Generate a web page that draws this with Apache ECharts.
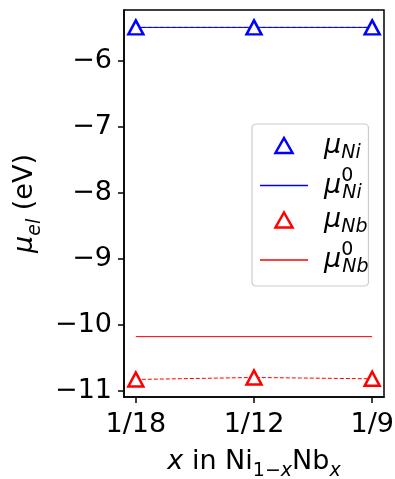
<!DOCTYPE html>
<html>
<head>
<meta charset="utf-8">
<script src="https://cdn.jsdelivr.net/npm/echarts@6/dist/echarts.min.js"></script>
<style>
  html, body { margin: 0; padding: 0; background: #fff; }
  #chart { width: 395px; height: 479px; }
</style>
</head>
<body>
<div id="chart"></div>
<script>
// Compositions on the x axis (placed at 0, 1, 2)
const categories = ['1/18', '1/12', '1/9'];
const xPositions = [0, 1, 2];

// Chemical potentials (eV)
const muNi = [-5.49, -5.49, -5.49];
const muNi0 = -5.49;
const muNb = [-10.83, -10.80, -10.82];
const muNb0 = -10.18;

// Y tick values and their labels
const yTicks = [-11, -10, -9, -8, -7, -6];
const yTickLabels = ['\u221211', '\u221210', '\u22129', '\u22128', '\u22127', '\u22126'];

const FONT = 'DejaVu Sans';
const BLUE = '#0000ff';
const RED = '#ff0000';

const pts = (vals) => vals.map((v, i) => [xPositions[i], v]);
const flat = (v) => [[xPositions[0], v], [xPositions[xPositions.length - 1], v]];

const legendText = {
  muNi: '{lmu|\u03bc}{lsub|Ni}',
  muNi0: '{lmu|\u03bc}{lsup|0}{lsub|Ni}',
  muNb: '{lmu|\u03bc}{lsub|Nb}',
  muNb0: '{lmu|\u03bc}{lsup|0}{lsub|Nb}'
};

const triPath = 'path://M50,0 L100,88 L0,88 Z';
const hLine = 'path://M0,0 L100,0 L100,3 L0,3 Z';

const chart = echarts.init(document.getElementById('chart'), null, { renderer: 'canvas' });

const option = {
  animation: false,
  backgroundColor: '#fff',
  textStyle: { fontFamily: FONT },
  grid: {
    left: 124, top: 10, width: 260, height: 387,
    outerBoundsMode: 'none',
    containLabel: false,
    show: true, borderColor: '#000', borderWidth: 1.5, backgroundColor: 'transparent'
  },
  xAxis: {
    type: 'value',
    min: -0.1, max: 2.1,
    splitLine: { show: false },
    axisLine: { show: true, onZero: false, lineStyle: { color: '#000', width: 1.5 } },
    axisTick: { show: true, length: 6, lineStyle: { color: '#000', width: 1.5 }, customValues: xPositions },
    axisLabel: {
      customValues: xPositions,
      margin: 14,
      color: '#000', fontSize: 27, fontFamily: FONT,
      formatter: (v) => categories[Math.round(v)]
    },
    name: '{it|x}{rm| in Ni}{sb|1\u2212}{sbi|x}{rm|Nb}{sbi|x}',
    nameLocation: 'middle',
    nameGap: 50,
    nameTextStyle: {
      color: '#000', fontFamily: FONT,
      rich: {
        it: { fontSize: 27, fontStyle: 'italic', fontFamily: FONT, color: '#000', lineHeight: 30, verticalAlign: 'middle' },
        rm: { fontSize: 27, fontFamily: FONT, color: '#000', lineHeight: 30, verticalAlign: 'middle' },
        sb: { fontSize: 19, fontFamily: FONT, color: '#000', lineHeight: 18, verticalAlign: 'bottom', padding: [0, 0, -4, 0] },
        sbi: { fontSize: 19, fontStyle: 'italic', fontFamily: FONT, color: '#000', lineHeight: 18, verticalAlign: 'bottom', padding: [0, 0, -4, 0] }
      }
    }
  },
  yAxis: {
    type: 'value',
    min: -11.096, max: -5.226,
    splitLine: { show: false },
    axisLine: { show: true, onZero: false, lineStyle: { color: '#000', width: 1.5 } },
    axisTick: { show: true, length: 6, lineStyle: { color: '#000', width: 1.5 }, customValues: yTicks },
    axisLabel: {
      customValues: yTicks,
      margin: 12,
      color: '#000', fontSize: 27, fontFamily: FONT,
      formatter: (v) => yTickLabels[yTicks.indexOf(Math.round(v))]
    },
    name: '{mu|\u03bc}{sb|el}{rm| (eV)}',
    nameLocation: 'middle',
    nameRotate: 90,
    nameGap: 82,
    nameTextStyle: {
      color: '#000', fontFamily: FONT,
      rich: {
        mu: { fontSize: 27, fontStyle: 'italic', fontFamily: FONT, color: '#000', lineHeight: 30, verticalAlign: 'middle' },
        rm: { fontSize: 27, fontFamily: FONT, color: '#000', lineHeight: 30, verticalAlign: 'middle' },
        sb: { fontSize: 19, fontStyle: 'italic', fontFamily: FONT, color: '#000', lineHeight: 18, verticalAlign: 'bottom', padding: [0, 0, -4, 0] }
      }
    }
  },
  legend: {
    orient: 'vertical',
    left: 252, top: 124,
    padding: [8, 0, 9, 8],
    itemGap: 4,
    itemWidth: 48, itemHeight: 15,
    borderColor: '#cccccc', borderWidth: 1.2, borderRadius: 4,
    backgroundColor: 'rgba(255,255,255,0.8)',
    formatter: (name) => legendText[name],
    textStyle: {
      color: '#000', fontFamily: FONT,
      rich: {
        lmu: { fontSize: 27, fontStyle: 'italic', fontFamily: FONT, color: '#000', lineHeight: 30, verticalAlign: 'middle', padding: [0, 0, 0, 11] },
        lsub: { fontSize: 19, fontStyle: 'italic', fontFamily: FONT, color: '#000', lineHeight: 18, verticalAlign: 'bottom', padding: [0, 0, -2, 0] },
        lsup: { fontSize: 19, fontFamily: FONT, color: '#000', lineHeight: 18, verticalAlign: 'top', width: 1, padding: [-4, 0, 0, 0] }
      }
    },
    data: [
      { name: 'muNi', icon: triPath, itemStyle: { color: '#fff', borderColor: BLUE, borderWidth: 2.5 } },
      { name: 'muNi0', icon: hLine, itemStyle: { color: BLUE, borderColor: BLUE, borderWidth: 0 } },
      { name: 'muNb', icon: triPath, itemStyle: { color: '#fff', borderColor: RED, borderWidth: 2.5 } },
      { name: 'muNb0', icon: hLine, itemStyle: { color: RED, borderColor: RED, borderWidth: 0 } }
    ]
  },
  series: [
    {
      name: 'muNi0', type: 'line', data: flat(muNi0), showSymbol: false, z: 2,
      lineStyle: { color: BLUE, width: 1 }, itemStyle: { color: BLUE }
    },
    {
      name: 'muNb0', type: 'line', data: flat(muNb0), showSymbol: false, z: 2,
      lineStyle: { color: RED, width: 1 }, itemStyle: { color: RED }
    },
    {
      name: 'muNi', type: 'line', data: pts(muNi), z: 3,
      symbol: 'triangle', symbolSize: [15, 14],
      lineStyle: { color: BLUE, width: 1, type: [4, 2] },
      itemStyle: { color: '#fff', borderColor: BLUE, borderWidth: 2.5 }
    },
    {
      name: 'muNb', type: 'line', data: pts(muNb), z: 3,
      symbol: 'triangle', symbolSize: [15, 14],
      lineStyle: { color: RED, width: 1, type: [4, 2] },
      itemStyle: { color: '#fff', borderColor: RED, borderWidth: 2.5 }
    }
  ]
};

chart.setOption(option);
</script>
</body>
</html>
